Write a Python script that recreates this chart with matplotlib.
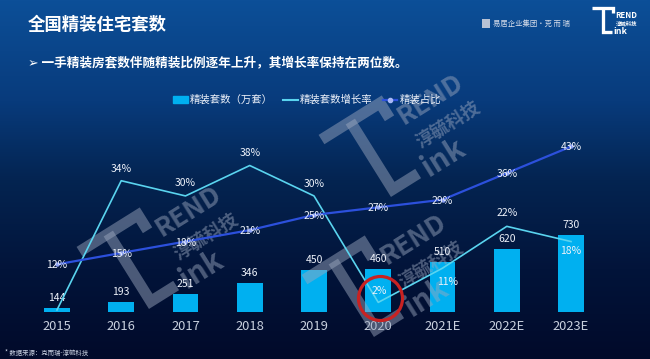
import numpy as np
import matplotlib
matplotlib.use('Agg')
from matplotlib import pyplot as plt
from matplotlib.colors import LinearSegmentedColormap
from matplotlib.patches import Patch, Ellipse, Rectangle
from matplotlib.lines import Line2D
from matplotlib.transforms import Affine2D, IdentityTransform

years = ['2015', '2016', '2017', '2018', '2019', '2020', '2021E', '2022E', '2023E']
units = [144, 193, 251, 346, 450, 460, 510, 620, 730]       # 精装套数（万套）
growth = [0, 34, 30, 38, 30, 2, 11, 22, 18]                 # 精装套数增长率 %
share = [12, 15, 18, 21, 25, 27, 29, 36, 43]                # 精装占比 %

# label offsets for the growth line, pixels (up is positive)
growth_dy = [0, 12, 13, 13, 12, 11, -14, 13, -9]
growth_dx = [0, 0, 0, 0, 0, 1, 5, 0, 0]

plt.rcParams['font.family'] = ['Noto Sans CJK SC', 'DejaVu Sans']

W, H = 650, 359
bar_color = '#00b0f0'
growth_color = '#5ad4ef'
share_color = '#2c50dc'
text_color = '#eef2fa'
wm_color = '#9ca8bf'

fig = plt.figure(figsize=(W / 100, H / 100), dpi=100)

# background gradient
bg = fig.add_axes([0, 0, 1, 1], zorder=-10)
cmap = LinearSegmentedColormap.from_list(
    'bg', [(0, '#0c4f98'), (0.28, '#083b7c'), (0.5, '#042451'),
           (0.75, '#02143a'), (1, '#010a2a')])
bg.imshow(np.linspace(0, 1, 256).reshape(-1, 1), cmap=cmap, aspect='auto',
          extent=[0, 1, 0, 1])
bg.set_xlim(0, 1)
bg.set_ylim(0, 1)
bg.axis('off')


def logo(host, ax_px, ay_px, s, ang, color, alpha, z):
    # TREND / 淳毓科技 / LINK mark, local origin = right end of top bar
    aff = Affine2D().scale(s).rotate_deg(ang).translate(ax_px, H - ay_px)
    paths = [[(-69, 0), (0, 0), (0, -18)],
             [(-35, 0), (-35, -80), (-5, -80)]]
    for p in paths:
        host.add_line(Line2D([q[0] for q in p], [q[1] for q in p],
                             transform=aff, color=color, alpha=alpha,
                             lw=11 * s * 0.72, solid_joinstyle='miter',
                             solid_capstyle='butt', clip_on=False, zorder=z))
    texts = [('REND', (8, -24), 19), ('淳毓科技', (10, -54), 13),
             ('ink', (2, -80), 21)]
    for t, pos, fs in texts:
        px, py = aff.transform(pos)
        host.text(px, py, t, transform=IdentityTransform(), rotation=ang,
                  rotation_mode='anchor', ha='left', va='center',
                  fontsize=fs * s, fontweight='bold', color=color,
                  alpha=alpha, clip_on=False, zorder=z)


# title, subtitle, header marks
bg.text(28 / W, 1 - 25 / H, '全国精装住宅套数', fontsize=12.5, fontweight='bold',
        color='white', va='center', ha='left')
bg.text(28 / W, 1 - 63 / H, '➢ 一手精装房套数伴随精装比例逐年上升，其增长率保持在两位数。',
        fontsize=9.1, fontweight='bold', color='white', va='center', ha='left')
bg.add_patch(Rectangle((482 / W, 1 - 28 / H), 8 / W, 9 / H, fc='#b8c2d4',
                       ec='none'))
bg.text(493 / W, 1 - 23.5 / H, '易居企业集团·克 而 瑞', fontsize=5.3,
        color='#d6ddea', va='center', ha='left')
logo(bg, 613, 8, 0.3, 0, 'white', 1, 5)
bg.text(5 / W, 1 - 353 / H, '* 数据来源：克而瑞-淳毓科技', fontsize=4.6,
        color='#c8d0e0', va='center', ha='left')

# main chart
left, right, bottom, top = 18.4, 609.6, 312, 110
ax = fig.add_axes([left / W, 1 - bottom / H, (right - left) / W,
                   (bottom - top) / H])
ax.patch.set_alpha(0)
ax2 = ax.twinx()

x = np.arange(len(years))
ax.bar(x, units, width=0.4, color=bar_color, zorder=2)
for i, v in enumerate(units):
    ax.annotate(str(v), (i, v), xytext=(0, 10), textcoords='offset pixels',
                ha='center', va='center', fontsize=7.5, color=text_color,
                zorder=4)
ax.set_ylim(109, 1740)
ax.set_xlim(-0.6, 8.6)

# watermarks between bars and lines
for cx, cy in [(138, 215), (380, 103), (363, 243)]:
    logo(ax, cx, cy, 1.0, 32, wm_color, 0.48, 3)

ax2.plot(x, growth, color=growth_color, lw=1.2, zorder=3)
ax2.plot(x, share, color=share_color, lw=1.6, marker='o', ms=2.2,
         mfc='#8fa4f5', mec='#8fa4f5', zorder=3)
for i, v in enumerate(growth):
    if i == 0:
        continue
    ax2.annotate(f'{v}%', (i, v), xytext=(growth_dx[i], growth_dy[i]),
                 textcoords='offset pixels', ha='center', va='center',
                 fontsize=7.5, color=text_color, zorder=5)
for i, v in enumerate(share):
    ax2.annotate(f'{v}%', (i, v), xytext=(0, -1), textcoords='offset pixels',
                 ha='center', va='center', fontsize=7.5, color=text_color,
                 zorder=5)
ax2.set_ylim(-0.53, 52.6)

for a in (ax, ax2):
    for sp in a.spines.values():
        sp.set_visible(False)
    a.set_yticks([])
ax.set_xticks(x, years)
ax.tick_params(axis='x', length=0, pad=6, labelsize=9.3, labelcolor='#c8d0de')

handles = [Patch(color=bar_color),
           Line2D([], [], color=growth_color, lw=1.5),
           Line2D([], [], color=share_color, lw=1.6, marker='o', ms=3,
                  mfc='#a8b8f5', mec='#a8b8f5')]
labels = ['精装套数（万套）', '精装套数增长率', '精装占比']
leg = ax2.legend(handles, labels, loc='center', ncol=3, frameon=False,
                 bbox_to_anchor=(307 / W, 1 - 100 / H),
                 bbox_transform=fig.transFigure, fontsize=7.5,
                 handlelength=1.4, handleheight=0.6, handletextpad=0.2,
                 columnspacing=1.0)
for t in leg.get_texts():
    t.set_color(text_color)

# red circle around 2020
fig.add_artist(Ellipse((380.5 / W, 1 - 298.5 / H), 44 / W, 44 / H,
                       transform=fig.transFigure, fill=False, ec='#c92222',
                       lw=2.3, zorder=10))

plt.savefig('out.png', dpi=100)
